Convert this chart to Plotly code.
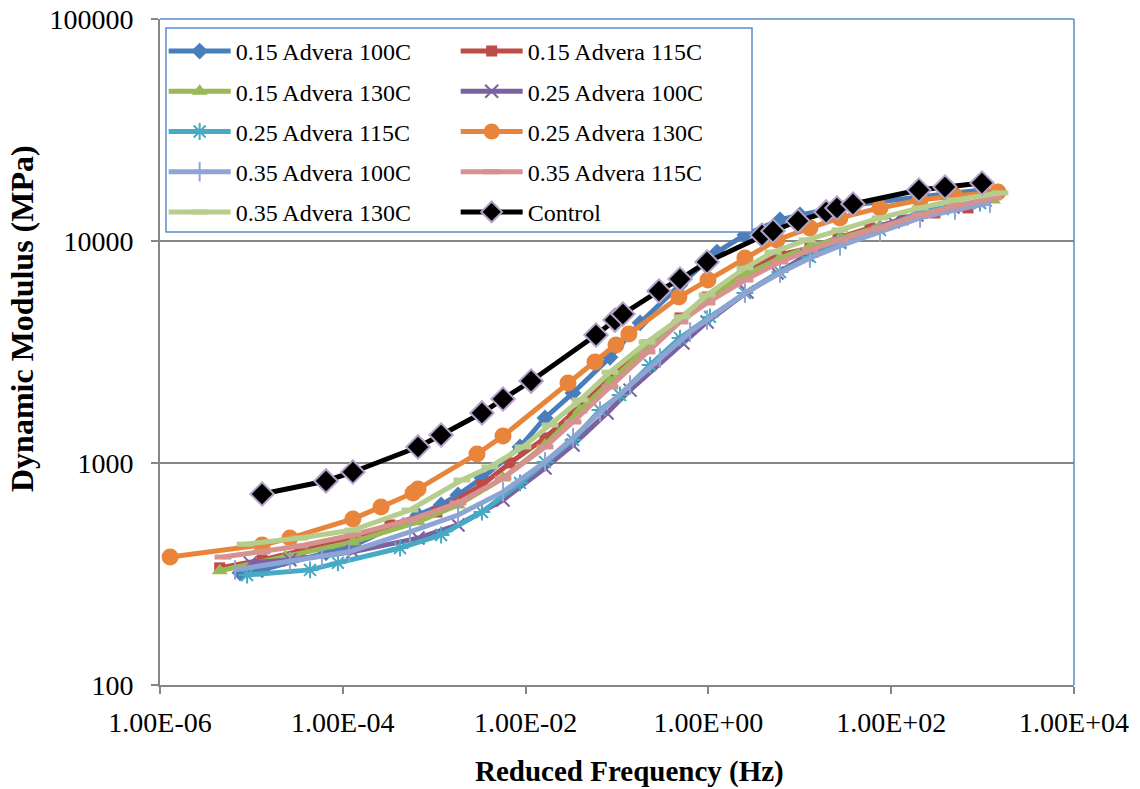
import plotly.graph_objects as go

# ---------------- data ----------------
names = ["0.15 Advera 100C", "0.15 Advera 115C", "0.15 Advera 130C", "0.25 Advera 100C",
         "0.25 Advera 115C", "0.25 Advera 130C", "0.35 Advera 100C", "0.35 Advera 115C",
         "0.35 Advera 130C", "Control"]

f_015_100 = [7.5e-6, 1.31e-5, 6.55e-5, 1.29e-4, 6.65e-4, 1.19e-3, 1.82e-3, 3.33e-3, 8.69e-3, 1.63e-2,
             0.033, 0.0838, 0.179, 0.489, 1.24, 2.51, 6.07, 10.05, 19.4, 38.2, 201, 388, 985]
e_015_100 = [320, 330, 394, 423, 583, 647, 718, 855, 1181, 1595,
             2067, 2997, 4278, 6340, 8914, 10650, 12450, 13100, 13800, 14530, 15780, 16280, 16980]

f_015_115 = [4.5e-6, 1.31e-5, 3.4e-5, 1.29e-4, 3.28e-4, 1.07e-3, 3.33e-3, 6.74e-3, 1.63e-2, 0.033,
             0.0838, 0.213, 0.489, 0.966, 2.39, 6.07, 12.9, 26.2, 58.6, 135, 301, 692]
e_015_115 = [337, 366, 402, 459, 526, 601, 796, 1000, 1297, 1679,
             2415, 3400, 4502, 5593, 7400, 8650, 9306, 10320, 11455, 12450, 13374, 14090]

f_015_130 = [4.5e-6, 2.33e-5, 1.29e-4, 6.65e-4, 1.82e-3, 5.66e-3, 1.63e-2, 0.0394, 0.0838, 0.213,
             0.489, 0.966, 2.51, 6.07, 12.9, 27.5, 75.4, 207, 499, 1300]
e_015_130 = [327, 377, 441, 543, 647, 855, 1206, 1733, 2317, 3330,
             4410, 5420, 7030, 8382, 9403, 10320, 11690, 13100, 14240, 15310]

f_025_100 = [9.7e-6, 2.64e-5, 1.29e-4, 6.65e-4, 1.82e-3, 5.66e-3, 1.63e-2, 0.033, 0.0778, 0.139,
             0.526, 0.966, 2.64, 5.63, 12.0, 27.5, 105, 191, 474, 1062]
e_025_100 = [355, 366, 398, 459, 526, 681, 950, 1206, 1679, 2130,
             3470, 4320, 5887, 7175, 8650, 9903, 12195, 13100, 14240, 15310]

f_025_115 = [8.96e-6, 4.38e-5, 8.85e-5, 4.23e-4, 1.19e-3, 3.33e-3, 8.69e-3, 1.63e-2, 0.033, 0.0652,
             0.108, 0.23, 0.489, 1.04, 2.51, 6.07, 12.9, 27.5, 75.4, 207, 418, 937]
e_025_115 = [313, 330, 355, 414, 474, 601, 813, 1011, 1270, 1733,
             2025, 2760, 3655, 4549, 5826, 7250, 8474, 9800, 11220, 13520, 14240, 14830]

f_025_130 = [1.29e-6, 1.31e-5, 2.64e-5, 1.29e-4, 2.62e-4, 5.86e-4, 6.65e-4, 2.94e-3, 5.66e-3, 0.0291,
             0.0574, 0.0975, 0.135, 0.476, 0.99, 2.51, 5.63, 12.9, 27.5, 75.4, 207, 499, 1472]
e_025_130 = [377, 427, 459, 560, 634, 733, 764, 1098, 1323, 2292,
             2850, 3400, 3809, 5593, 6670, 8382, 10110, 11455, 12710, 14090, 15310, 15944, 16630]

f_035_100 = [6.62e-6, 2.64e-5, 5.91e-5, 1.17e-4, 5.43e-4, 1.82e-3, 5.66e-3, 1.63e-2, 0.033, 0.0652,
             0.139, 0.295, 0.63, 0.966, 2.51, 6.07, 12.9, 27.5, 75.4, 207, 499, 1205]
e_035_100 = [330, 359, 377, 398, 489, 583, 741, 1011, 1297, 1697,
             2245, 2971, 3889, 4410, 5826, 7175, 8382, 9501, 10990, 12710, 13800, 14830]

f_035_115 = [4.89e-6, 1.31e-5, 3.4e-5, 1.29e-4, 5.43e-4, 1.82e-3, 5.66e-3, 1.63e-2, 0.033, 0.0838,
             0.213, 0.489, 0.966, 2.51, 6.07, 12.9, 27.5, 75.4, 207, 499, 1300]
e_035_115 = [377, 398, 423, 474, 554, 661, 855, 1181, 1530, 2199,
             3164, 4320, 5258, 6670, 8042, 9100, 10110, 11455, 13100, 14380, 15630]

f_035_130 = [8.51e-6, 3.4e-5, 1.29e-4, 5.43e-4, 2.01e-3, 4.07e-3, 9.38e-3, 1.85e-2, 0.0394, 0.0838,
             0.213, 0.514, 0.966, 2.51, 5.09, 12.0, 27.5, 75.4, 207, 499, 1549]
e_035_130 = [431, 459, 499, 614, 838, 960, 1181, 1483, 1922, 2566,
             3507, 4549, 5710, 7555, 8914, 10110, 11220, 12710, 14090, 15310, 16460]

f_control = [1.31e-5, 6.55e-5, 1.29e-4, 6.65e-4, 1.19e-3, 3.33e-3, 5.66e-3, 1.15e-2, 0.0589, 0.095,
             0.116, 0.288, 0.489, 0.966, 3.86, 5.09, 9.55, 19.4, 25.5, 38.2, 201, 388, 985]
e_control = [725, 830, 911, 1181, 1337, 1680, 1942, 2340, 3772, 4406,
             4690, 5953, 6738, 8044, 10640, 11092, 12303, 13520, 14080, 14680, 16970, 17500, 18250]

x_tick_vals = [1e-6, 1e-4, 1e-2, 1e0, 1e2, 1e4]
x_tick_text = ["1.00E-06", "1.00E-04", "1.00E-02", "1.00E+00", "1.00E+02", "1.00E+04"]
y_tick_vals = [100, 1000, 10000, 100000]
y_tick_text = ["100", "1000", "10000", "100000"]

# ---------------- styling ----------------
FONT = "Liberation Serif, Times New Roman, serif"
series = [
    (f_015_100, e_015_100, "#4A7EBB", dict(symbol="diamond", size=13, color="#4A7EBB"), "legend"),
    (f_015_115, e_015_115, "#BE4B48", dict(symbol="square", size=11, color="#BE4B48"), "legend2"),
    (f_015_130, e_015_130, "#98B954", dict(symbol="triangle-up", size=14, color="#98B954"), "legend"),
    (f_025_100, e_025_100, "#7D60A0", dict(symbol="x-thin-open", size=13, color="#7D60A0",
                                            line=dict(width=2, color="#7D60A0")), "legend2"),
    (f_025_115, e_025_115, "#46AAC5", dict(symbol="asterisk-open", size=14, color="#46AAC5",
                                            line=dict(width=2, color="#46AAC5")), "legend"),
    (f_025_130, e_025_130, "#E8853B", dict(symbol="circle", size=17, color="#E8853B"), "legend2"),
    (f_035_100, e_035_100, "#8EA5D3", dict(symbol="line-ns-open", size=14, color="#8EA5D3",
                                            line=dict(width=2, color="#8EA5D3")), "legend"),
    (f_035_115, e_035_115, "#D7918F", dict(symbol="line-ew-open", size=12, color="#D7918F",
                                            line=dict(width=5, color="#D7918F")), "legend2"),
    (f_035_130, e_035_130, "#B6CE8D", dict(symbol="line-ew-open", size=12, color="#B6CE8D",
                                            line=dict(width=5, color="#B6CE8D")), "legend"),
    (f_control, e_control, "#000000", dict(symbol="diamond", size=18, color="#000000",
                                            line=dict(width=2, color="#B3A2C7")), "legend2"),
]

fig = go.Figure()
for i, (fx, ey, col, mk, lg) in enumerate(series):
    fig.add_trace(go.Scatter(
        x=fx, y=ey, name=names[i], mode="lines+markers",
        line=dict(color=col, width=5),
        marker=mk, legend=lg, legendgroup="g%d" % i,
    ))

fig.update_layout(
    width=1140, height=789,
    margin=dict(l=160, r=66, t=19, b=104, autoexpand=False),
    paper_bgcolor="white", plot_bgcolor="white",
    font=dict(family=FONT, color="black"),
    showlegend=True,
    legend=dict(x=0.004, y=0.985, xanchor="left", yanchor="top",
                font=dict(family=FONT, size=24), bgcolor="rgba(0,0,0,0)",
                itemwidth=62, tracegroupgap=6, traceorder="grouped"),
    legend2=dict(x=0.3235, y=0.985, xanchor="left", yanchor="top",
                 font=dict(family=FONT, size=24), bgcolor="rgba(0,0,0,0)",
                 itemwidth=62, tracegroupgap=6, traceorder="grouped"),
)

fig.update_xaxes(type="log", range=[-6, 4], tickvals=x_tick_vals, ticktext=x_tick_text,
                 showgrid=False, zeroline=False, showline=True, linecolor="#868686", linewidth=2,
                 ticks="outside", ticklen=7, tickcolor="#868686", tickwidth=1.5, automargin=False,
                 tickfont=dict(family=FONT, size=28, color="black"), ticklabelstandoff=4)
fig.update_yaxes(type="log", range=[2, 5], tickvals=y_tick_vals, ticktext=y_tick_text,
                 showgrid=True, gridcolor="#868686", gridwidth=1.5, zeroline=False,
                 showline=True, linecolor="#868686", linewidth=2, automargin=False,
                 ticks="outside", ticklen=7, tickcolor="#868686", tickwidth=1.5,
                 tickfont=dict(family=FONT, size=28, color="black"), ticklabelstandoff=12)

# plot-area border (top / right) and legend box
fig.add_shape(type="line", xref="paper", yref="paper", x0=0, x1=1, y0=1, y1=1,
              line=dict(color="#5B8CC9", width=1.5))
fig.add_shape(type="line", xref="paper", yref="paper", x0=1, x1=1, y0=0, y1=1,
              line=dict(color="#5B8CC9", width=1.5))
fig.add_shape(type="rect", xref="paper", yref="paper",
              x0=(166 - 160) / 914, x1=(752 - 160) / 914,
              y0=(685 - 232) / 666, y1=(685 - 28) / 666,
              line=dict(color="#5B8CC9", width=1.5), fillcolor="white", layer="above")

fig.add_annotation(text="<b>Reduced Frequency (Hz)</b>", xref="paper", yref="paper",
                   x=(629 - 160) / 914, y=(685 - 771) / 666, xanchor="center", yanchor="middle",
                   showarrow=False, font=dict(family=FONT, size=29, color="black"))
fig.add_annotation(text="<b>Dynamic Modulus (MPa)</b>", xref="paper", yref="paper",
                   x=(22 - 160) / 914, y=(685 - 319) / 666, xanchor="center", yanchor="middle",
                   textangle=-90, showarrow=False, font=dict(family=FONT, size=32, color="black"))

fig.write_html("out.html")
